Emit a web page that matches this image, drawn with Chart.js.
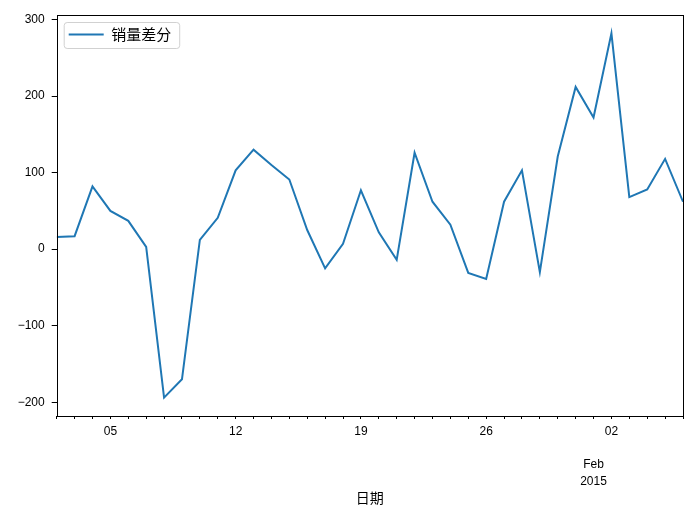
<!DOCTYPE html>
<html>
<head>
<meta charset="utf-8">
<script src="https://cdn.jsdelivr.net/npm/chart.js@4/dist/chart.umd.min.js"></script>
<style>
  body { margin: 0; background: #fff; }
</style>
</head>
<body>
<canvas id="grafico" width="696" height="519"></canvas>
<script>
// datas (diárias) e valores do 销量差分
const datas = [
    '2015-01-02', '2015-01-03', '2015-01-04', '2015-01-05', '2015-01-06', '2015-01-07',
    '2015-01-08', '2015-01-09', '2015-01-10', '2015-01-11', '2015-01-12', '2015-01-13',
    '2015-01-14', '2015-01-15', '2015-01-16', '2015-01-17', '2015-01-18', '2015-01-19',
    '2015-01-20', '2015-01-21', '2015-01-22', '2015-01-23', '2015-01-24', '2015-01-25',
    '2015-01-26', '2015-01-27', '2015-01-28', '2015-01-29', '2015-01-30', '2015-01-31',
    '2015-02-01', '2015-02-02', '2015-02-03', '2015-02-04', '2015-02-05', '2015-02-06'
];
const vendasDiferenca = [
    16, 17, 82, 50, 37, 3,
    -194, -170, 12, 41, 103, 130,
    110, 91, 25, -25, 7, 77,
    22, -14, 126, 62, 32, -31,
    -39, 62, 103, -30, 121, 212,
    172, 282, 68, 78, 118, 62
];
const ticksY = [-200, -100, 0, 100, 200, 300];
const datasRotuladas = ['2015-01-05', '2015-01-12', '2015-01-19', '2015-01-26', '2015-02-02'];
const rotulosDias = ['05', '12', '19', '26', '02'];
const dataMes = '2015-02-01';
const rotuloMes = ['Feb', '2015'];

const nomeSerie = '销量差分';
const tituloX = '日期';

const fonteNum = "'Liberation Sans', 'Noto Sans CJK SC', sans-serif";
const fonteCJK = "'Noto Sans CJK SC', 'Liberation Sans', sans-serif";

// legenda dentro da área do gráfico: alinhar ao topo da área
const ajusteLegenda = {
    id: 'ajusteLegenda',
    afterUpdate: function (chart) {
        var leg = chart.legend;
        var dy = chart.chartArea.top - leg.top;
        leg.top += dy;
        leg.bottom += dy;
        leg.legendHitBoxes.forEach(function (h) { h.top += dy; });
    }
};

// moldura do gráfico e da legenda
const moldura = {
    id: 'moldura',
    afterDraw: function (chart) {
        var ctx = chart.ctx;
        var a = chart.chartArea;
        ctx.save();
        var caixa = chart.legend.legendHitBoxes[0];
        if (caixa) {
            ctx.strokeStyle = 'rgba(204,204,204,0.9)';
            ctx.lineWidth = 1;
            ctx.beginPath();
            ctx.roundRect(caixa.left - 4.5, caixa.top - 4.5, caixa.width + 13, caixa.height + 11, 3);
            ctx.stroke();
        }
        ctx.strokeStyle = '#000';
        ctx.lineWidth = 1;
        ctx.strokeRect(Math.round(a.left) + 0.5, Math.round(a.top) + 0.5,
            Math.round(a.right - a.left), Math.round(a.bottom - a.top));
        ctx.restore();
    }
};

var ctx = document.getElementById('grafico').getContext('2d');
var grafico = new Chart(ctx, {
    type: 'line',
    data: {
        labels: datas.map(function (d, i) { return i; }),
        datasets: [{
            label: nomeSerie,
            data: vendasDiferenca.map(function (v, i) { return { x: i, y: v }; }),
            borderColor: '#1f77b4',
            backgroundColor: '#1f77b4',
            borderWidth: 2,
            pointRadius: 0,
            tension: 0,
            fill: false
        }]
    },
    options: {
        responsive: false,
        animation: false,
        layout: { padding: { top: 15, right: 13, left: 0, bottom: 0 } },
        plugins: {
            legend: {
                position: 'chartArea',
                align: 'start',
                labels: {
                    boxWidth: 35,
                    boxHeight: 2,
                    padding: 12,
                    color: '#000',
                    font: { family: fonteCJK, size: 15 },
                    generateLabels: function (chart) {
                        var itens = Chart.defaults.plugins.legend.labels.generateLabels(chart);
                        itens.forEach(function (it) { it.lineWidth = 0; });
                        return itens;
                    }
                }
            },
            tooltip: { enabled: false }
        },
        scales: {
            x: {
                type: 'linear',
                min: 0,
                max: datas.length - 1,
                afterBuildTicks: function (scale) {
                    scale.ticks = datas.map(function (d, i) { return { value: i }; });
                },
                afterFit: function (scale) { scale.height = 103; },
                grid: { drawOnChartArea: false, drawTicks: true, tickLength: 3, tickColor: '#000' },
                border: { display: false },
                ticks: {
                    autoSkip: false,
                    maxRotation: 0,
                    padding: 4.5,
                    color: '#000',
                    font: { family: fonteNum, size: 12, lineHeight: '16.5px' },
                    callback: function (v) {
                        var d = datas[v];
                        if (d === dataMes) return ['', ''].concat(rotuloMes);
                        var k = datasRotuladas.indexOf(d);
                        return k >= 0 ? rotulosDias[k] : '';
                    }
                },
                title: {
                    display: true,
                    text: tituloX,
                    color: '#000',
                    font: { family: fonteCJK, size: 14 },
                    padding: { top: 4, bottom: 12.5 }
                }
            },
            y: {
                min: -218,
                max: 306,
                afterBuildTicks: function (scale) {
                    scale.ticks = ticksY.map(function (v) { return { value: v }; });
                },
                afterFit: function (scale) { scale.width = 56.7; },
                grid: { drawOnChartArea: false, drawTicks: true, tickLength: 5, tickColor: '#000' },
                border: { display: false },
                ticks: {
                    padding: 7,
                    color: '#000',
                    font: { family: fonteNum, size: 12 },
                    callback: function (v) { return String(v).replace('-', '\u2212'); }
                }
            }
        }
    },
    plugins: [ajusteLegenda, moldura]
});
</script>
</body>
</html>
